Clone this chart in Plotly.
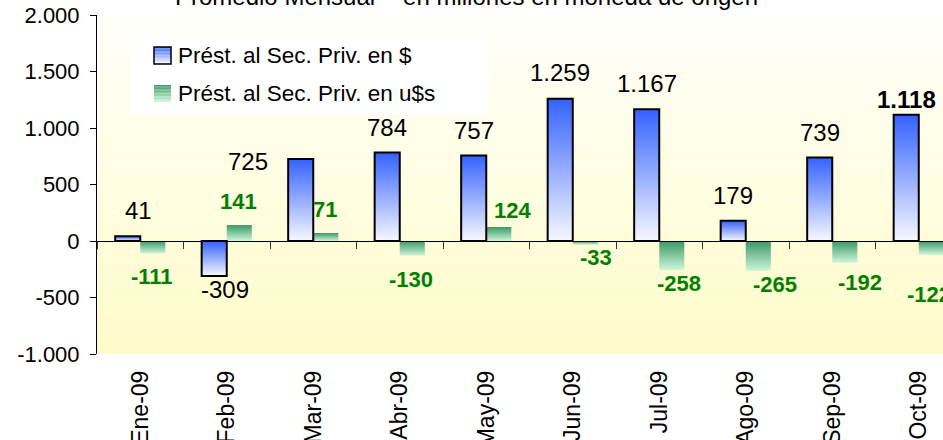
import plotly.graph_objects as go

# ---------------- data ----------------
months = ["Ene-09", "Feb-09", "Mar-09", "Abr-09", "May-09",
          "Jun-09", "Jul-09", "Ago-09", "Sep-09", "Oct-09"]
pesos = [41, -309, 725, 784, 757, 1259, 1167, 179, 739, 1118]
dolares = [-111, 141, 71, -130, 124, -33, -258, -265, -192, -122]
y_ticks = [-1000, -500, 0, 500, 1000, 1500, 2000]
y_tick_text = ["-1.000", "-500", "0", "500", "1.000", "1.500", "2.000"]
series_names = ["Prést. al Sec. Priv. en $", "Prést. al Sec. Priv. en u$s"]
title_text = "Promedio Mensual  - en millones en moneda de origen"

# ---------------- style / layout ----------------
FONT = "Arial, Liberation Sans, sans-serif"
W_PX, H_PX = 943, 440
L, R, T, B = 97, 0, 15, 86
PLOT_W, PLOT_H = W_PX - L - R, H_PX - T - B
CAT_PX = 86.5
BAR_W = 0.29
X_RANGE = [-0.5, -0.5 + PLOT_W / CAT_PX]

BLUE_SCALE = [[0, "#F7F8FF"], [1, "#3462FF"]]
GREEN_SCALE = [[0, "#CFF6D8"], [1, "#3A9868"]]
LABEL_GREEN = "#008000"

# label nudges in pixels: (distance from bar end, horizontal shift)
blue_nudge = [(26, 11), (14, 11), (-2, -53), (25, 0), (25, 0),
              (26, 0), (26, 0), (25, 0), (25, 0), (15, 0)]
green_nudge = [(23, -1), (24, -1), (23, -1), (24, -1), (16, 14),
               (13, 11), (13, 7), (14, 17), (20, 15), (40, -2)]
blue_bold = [False] * 9 + [True]


def px(x):
    return (x - L) / PLOT_W


def py(y):
    return (H_PX - B - y) / PLOT_H


def fmt(v):
    return f"{v:,}".replace(",", ".")


def mix(c0, c1, t):
    return "rgb(%d,%d,%d)" % tuple(round(a + (b - a) * t) for a, b in zip(c0, c1))


xs = list(range(len(months)))
fig = go.Figure()

# gradient bodies (main subplot, underneath)
for i, v in enumerate(pesos):
    x0, x1 = i - BAR_W, i
    fig.add_trace(go.Scatter(
        x=[x0, x1, x1, x0, x0], y=[0, 0, v, v, 0], mode="lines",
        fill="toself", line=dict(width=0),
        fillgradient=dict(type="vertical", colorscale=BLUE_SCALE),
        hoverinfo="skip", showlegend=False))
for i, v in enumerate(dolares):
    x0, x1 = i, i + BAR_W
    fig.add_trace(go.Scatter(
        x=[x0, x1, x1, x0, x0], y=[0, 0, v, v, 0], mode="lines",
        fill="toself", line=dict(width=0),
        fillgradient=dict(type="vertical", colorscale=GREEN_SCALE),
        hoverinfo="skip", showlegend=False))

# bar traces (overlay subplot, on top) - outlines + hover
fig.add_trace(go.Bar(
    x=xs, y=pesos, width=BAR_W, offset=-BAR_W, xaxis="x2", name=series_names[0],
    marker=dict(color="rgba(0,0,0,0)", line=dict(color="black", width=2)),
    customdata=months, hovertemplate="%{customdata}: %{y}<extra></extra>"))
fig.add_trace(go.Bar(
    x=xs, y=dolares, width=BAR_W, offset=0, xaxis="x2", name=series_names[1],
    marker=dict(color="rgba(0,0,0,0)", line=dict(width=0)),
    customdata=months, hovertemplate="%{customdata}: %{y}<extra></extra>"))

annotations = []
for i, v in enumerate(pesos):
    dy, dx = blue_nudge[i]
    annotations.append(dict(
        x=i - BAR_W / 2, y=v, xref="x", yref="y", showarrow=False,
        text=("<b>%s</b>" % fmt(v)) if blue_bold[i] else fmt(v),
        font=dict(family=FONT, size=24, color="black"),
        xanchor="center", yanchor="middle",
        yshift=dy if v >= 0 else -dy, xshift=dx))
for i, v in enumerate(dolares):
    dy, dx = green_nudge[i]
    annotations.append(dict(
        x=i + BAR_W / 2, y=v, xref="x", yref="y", showarrow=False,
        text="<b>%s</b>" % fmt(v),
        font=dict(family=FONT, size=22, color=LABEL_GREEN),
        xanchor="center", yanchor="middle",
        yshift=dy if v >= 0 else -dy, xshift=dx))

# title (partly above the canvas, as in the reference)
annotations.append(dict(
    x=px(466), y=py(-3), xref="paper", yref="paper", showarrow=False,
    text=title_text, font=dict(family=FONT, size=24, color="black"),
    xanchor="center", yanchor="middle"))

# manual legend text
for k, yc in enumerate([55.7, 93.3]):
    annotations.append(dict(
        x=px(176), y=py(yc), xref="paper", yref="paper", showarrow=False,
        text=series_names[k], font=dict(family=FONT, size=22.5, color="black"),
        xanchor="left", yanchor="middle"))

shapes = []
# plot-area background gradient
N = 60
top_c, bot_c = (255, 255, 250), (255, 251, 200)
for k in range(N):
    t = (k + 0.5) / N
    shapes.append(dict(type="rect", xref="paper", yref="paper",
                       x0=0, x1=1, y0=k / N, y1=(k + 1) / N,
                       fillcolor=mix(bot_c, top_c, t), line=dict(width=0),
                       layer="below"))
# legend box
shapes.append(dict(type="rect", xref="paper", yref="paper",
                   x0=px(130), x1=px(488), y0=py(115), y1=py(35),
                   fillcolor="white", line=dict(width=0), layer="below"))
# legend icons
icon_rows = [(47, 64, (52, 98, 255), (247, 248, 255), True),
             (85, 102, (58, 152, 104), (207, 246, 216), False)]
for y0, y1, c_top, c_bot, outline in icon_rows:
    M = 12
    for k in range(M):
        a = y0 + (y1 - y0) * k / M
        b = y0 + (y1 - y0) * (k + 1) / M
        shapes.append(dict(type="rect", xref="paper", yref="paper",
                           x0=px(154), x1=px(171), y0=py(b), y1=py(a),
                           fillcolor=mix(c_top, c_bot, (k + 0.5) / M),
                           line=dict(width=0), layer="above"))
    if outline:
        shapes.append(dict(type="rect", xref="paper", yref="paper",
                           x0=px(154), x1=px(171), y0=py(y1), y1=py(y0),
                           line=dict(color="black", width=1.5), layer="above"))

fig.update_layout(
    width=W_PX, height=H_PX,
    margin=dict(l=L, r=R, t=T, b=B, pad=0, autoexpand=False),
    paper_bgcolor="white", plot_bgcolor="rgba(0,0,0,0)",
    showlegend=False, barmode="overlay",
    font=dict(family=FONT, color="black"),
    xaxis=dict(range=X_RANGE, tickvals=xs, ticktext=months, tickangle=-90,
               ticks="", showline=False, showgrid=False, zeroline=False,
               ticklabelstandoff=11, automargin=False,
               tickfont=dict(size=23, family=FONT), fixedrange=True),
    xaxis2=dict(range=X_RANGE, overlaying="x", anchor="free", position=1 / 3,
                tickvals=[i - 0.5 for i in range(len(months) + 1)],
                ticks="outside", ticklen=7, tickcolor="#333", tickwidth=1,
                showticklabels=False, showline=True, linecolor="black",
                linewidth=1, showgrid=False, zeroline=False, automargin=False),
    yaxis=dict(range=[-1000, 2000], tickvals=y_ticks, ticktext=y_tick_text,
               ticks="outside", ticklen=6, tickcolor="black", showline=True,
               linecolor="black", linewidth=1, showgrid=False, zeroline=False,
               ticklabelstandoff=6, automargin=False,
               tickfont=dict(size=22, family=FONT)),
    shapes=shapes, annotations=annotations,
)

fig.write_html("out.html", config={"displayModeBar": False},
               post_script="document.body.style.margin='0px';document.body.style.overflow='hidden';")
